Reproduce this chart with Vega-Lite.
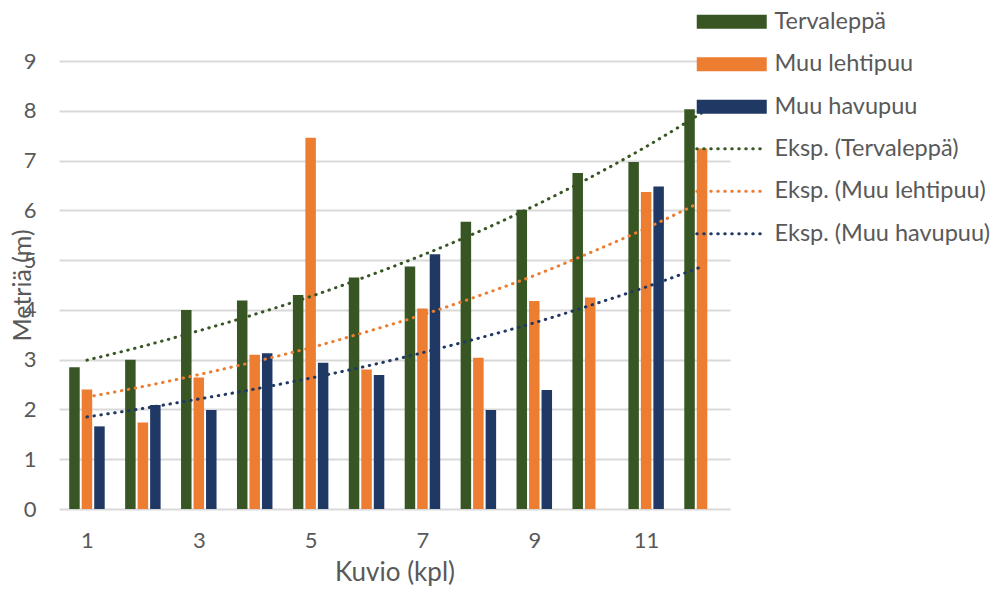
{
  "$schema": "https://vega.github.io/schema/vega-lite/v6.json",
  "width": 671,
  "height": 448,
  "autosize": {"type": "none"},
  "padding": {"left": 59, "top": 61, "right": 267, "bottom": 83},
  "background": "white",
  "config": {"view": {"stroke": null}, "font": "Lato"},
  "datasets": {
    "bars": [
      {"kuvio": 1, "series": "Tervaleppä", "value": 2.85},
      {"kuvio": 2, "series": "Tervaleppä", "value": 3.0},
      {"kuvio": 3, "series": "Tervaleppä", "value": 4.0},
      {"kuvio": 4, "series": "Tervaleppä", "value": 4.19},
      {"kuvio": 5, "series": "Tervaleppä", "value": 4.3},
      {"kuvio": 6, "series": "Tervaleppä", "value": 4.65},
      {"kuvio": 7, "series": "Tervaleppä", "value": 4.87},
      {"kuvio": 8, "series": "Tervaleppä", "value": 5.77},
      {"kuvio": 9, "series": "Tervaleppä", "value": 6.01},
      {"kuvio": 10, "series": "Tervaleppä", "value": 6.75},
      {"kuvio": 11, "series": "Tervaleppä", "value": 6.97},
      {"kuvio": 12, "series": "Tervaleppä", "value": 8.03},
      {"kuvio": 1, "series": "Muu lehtipuu", "value": 2.4},
      {"kuvio": 2, "series": "Muu lehtipuu", "value": 1.74},
      {"kuvio": 3, "series": "Muu lehtipuu", "value": 2.64},
      {"kuvio": 4, "series": "Muu lehtipuu", "value": 3.1},
      {"kuvio": 5, "series": "Muu lehtipuu", "value": 7.46},
      {"kuvio": 6, "series": "Muu lehtipuu", "value": 2.8},
      {"kuvio": 7, "series": "Muu lehtipuu", "value": 4.03},
      {"kuvio": 8, "series": "Muu lehtipuu", "value": 3.04},
      {"kuvio": 9, "series": "Muu lehtipuu", "value": 4.18},
      {"kuvio": 10, "series": "Muu lehtipuu", "value": 4.25},
      {"kuvio": 11, "series": "Muu lehtipuu", "value": 6.37},
      {"kuvio": 12, "series": "Muu lehtipuu", "value": 7.24},
      {"kuvio": 1, "series": "Muu havupuu", "value": 1.66},
      {"kuvio": 2, "series": "Muu havupuu", "value": 2.09},
      {"kuvio": 3, "series": "Muu havupuu", "value": 1.99},
      {"kuvio": 4, "series": "Muu havupuu", "value": 3.13},
      {"kuvio": 5, "series": "Muu havupuu", "value": 2.94},
      {"kuvio": 6, "series": "Muu havupuu", "value": 2.69},
      {"kuvio": 7, "series": "Muu havupuu", "value": 5.12},
      {"kuvio": 8, "series": "Muu havupuu", "value": 1.99},
      {"kuvio": 9, "series": "Muu havupuu", "value": 2.39},
      {"kuvio": 11, "series": "Muu havupuu", "value": 6.48}
    ],
    "trends": [
      {"kuvio": 1, "trend": "Eksp. (Tervaleppä)", "value": 2.99},
      {"kuvio": 2, "trend": "Eksp. (Tervaleppä)", "value": 3.27},
      {"kuvio": 3, "trend": "Eksp. (Tervaleppä)", "value": 3.58},
      {"kuvio": 4, "trend": "Eksp. (Tervaleppä)", "value": 3.91},
      {"kuvio": 5, "trend": "Eksp. (Tervaleppä)", "value": 4.27},
      {"kuvio": 6, "trend": "Eksp. (Tervaleppä)", "value": 4.67},
      {"kuvio": 7, "trend": "Eksp. (Tervaleppä)", "value": 5.10},
      {"kuvio": 8, "trend": "Eksp. (Tervaleppä)", "value": 5.57},
      {"kuvio": 9, "trend": "Eksp. (Tervaleppä)", "value": 6.09},
      {"kuvio": 10, "trend": "Eksp. (Tervaleppä)", "value": 6.66},
      {"kuvio": 11, "trend": "Eksp. (Tervaleppä)", "value": 7.28},
      {"kuvio": 12, "trend": "Eksp. (Tervaleppä)", "value": 7.96},
      {"kuvio": 1, "trend": "Eksp. (Muu lehtipuu)", "value": 2.25},
      {"kuvio": 2, "trend": "Eksp. (Muu lehtipuu)", "value": 2.46},
      {"kuvio": 3, "trend": "Eksp. (Muu lehtipuu)", "value": 2.70},
      {"kuvio": 4, "trend": "Eksp. (Muu lehtipuu)", "value": 2.96},
      {"kuvio": 5, "trend": "Eksp. (Muu lehtipuu)", "value": 3.24},
      {"kuvio": 6, "trend": "Eksp. (Muu lehtipuu)", "value": 3.56},
      {"kuvio": 7, "trend": "Eksp. (Muu lehtipuu)", "value": 3.90},
      {"kuvio": 8, "trend": "Eksp. (Muu lehtipuu)", "value": 4.28},
      {"kuvio": 9, "trend": "Eksp. (Muu lehtipuu)", "value": 4.69},
      {"kuvio": 10, "trend": "Eksp. (Muu lehtipuu)", "value": 5.15},
      {"kuvio": 11, "trend": "Eksp. (Muu lehtipuu)", "value": 5.64},
      {"kuvio": 12, "trend": "Eksp. (Muu lehtipuu)", "value": 6.18},
      {"kuvio": 1, "trend": "Eksp. (Muu havupuu)", "value": 1.85},
      {"kuvio": 2, "trend": "Eksp. (Muu havupuu)", "value": 2.02},
      {"kuvio": 3, "trend": "Eksp. (Muu havupuu)", "value": 2.21},
      {"kuvio": 4, "trend": "Eksp. (Muu havupuu)", "value": 2.41},
      {"kuvio": 5, "trend": "Eksp. (Muu havupuu)", "value": 2.63},
      {"kuvio": 6, "trend": "Eksp. (Muu havupuu)", "value": 2.87},
      {"kuvio": 7, "trend": "Eksp. (Muu havupuu)", "value": 3.14},
      {"kuvio": 8, "trend": "Eksp. (Muu havupuu)", "value": 3.43},
      {"kuvio": 9, "trend": "Eksp. (Muu havupuu)", "value": 3.74},
      {"kuvio": 10, "trend": "Eksp. (Muu havupuu)", "value": 4.09},
      {"kuvio": 11, "trend": "Eksp. (Muu havupuu)", "value": 4.46},
      {"kuvio": 12, "trend": "Eksp. (Muu havupuu)", "value": 4.87}
    ]
  },
  "encoding": {
    "x": {
      "field": "kuvio",
      "type": "quantitative",
      "scale": {"domain": [0.5, 12.5], "nice": false, "zero": false, "padding": 0},
      "axis": {
        "values": [1, 3, 5, 7, 9, 11],
        "format": "d",
        "title": "Kuvio (kpl)",
        "grid": false,
        "domain": false,
        "ticks": false,
        "labelFontSize": 22,
        "labelColor": "#595959",
        "labelPadding": 21,
        "titleFontSize": 26,
        "titleFontWeight": "normal",
        "titleColor": "#595959",
        "titlePadding": 8
      }
    },
    "y": {
      "field": "value",
      "type": "quantitative",
      "scale": {"domain": [0, 9], "nice": false},
      "axis": {
        "values": [0, 1, 2, 3, 4, 5, 6, 7, 8, 9],
        "title": "Metriä (m)",
        "domain": false,
        "ticks": false,
        "gridColor": "#d9d9d9",
        "gridWidth": 2,
        "labelFontSize": 22,
        "labelColor": "#595959",
        "labelPadding": 23,
        "titleFontSize": 25,
        "titleFontWeight": "normal",
        "titleColor": "#595959",
        "titleAngle": -90,
        "titleX": -37,
        "titleY": 224,
        "titleAlign": "center",
        "titleBaseline": "middle"
      }
    }
  },
  "layer": [
    {
      "data": {"name": "bars"},
      "transform": [{"filter": "datum.series === 'Tervaleppä'"}],
      "mark": {"type": "bar", "width": 10.5, "xOffset": -12.5},
      "encoding": {"fill": {"field": "series", "type": "nominal", "scale": {"domain": ["Tervaleppä", "Muu lehtipuu", "Muu havupuu"], "range": ["#375623", "#ED7D31", "#203864"]},
        "legend": {"orient": "none", "legendX": 661, "legendY": -51, "title": null, "symbolType": "M-5,-1H5V1H-5Z", "symbolSize": 196, "symbolStrokeWidth": 0, "labelFontSize": 23.5, "labelColor": "#595959", "labelOffset": 31, "rowPadding": 17.5, "padding": 0, "labelLimit": 400}}}
    },
    {
      "data": {"name": "bars"},
      "transform": [{"filter": "datum.series === 'Muu lehtipuu'"}],
      "mark": {"type": "bar", "width": 10.5, "xOffset": 0},
      "encoding": {"fill": {"field": "series", "type": "nominal"}}
    },
    {
      "data": {"name": "bars"},
      "transform": [{"filter": "datum.series === 'Muu havupuu'"}],
      "mark": {"type": "bar", "width": 10.5, "xOffset": 12.5},
      "encoding": {"fill": {"field": "series", "type": "nominal"}}
    },
    {
      "data": {"name": "trends"},
      "mark": {"type": "line", "strokeDash": [0.5, 6.5], "strokeWidth": 3, "strokeCap": "round", "interpolate": "monotone"},
      "encoding": {"stroke": {"field": "trend", "type": "nominal", "scale": {"domain": ["Eksp. (Tervaleppä)", "Eksp. (Muu lehtipuu)", "Eksp. (Muu havupuu)"], "range": ["#375623", "#ED7D31", "#203864"]},
        "legend": {"orient": "none", "legendX": 661, "legendY": 76, "title": null, "symbolType": "M-5,0H5", "symbolSize": 196, "symbolStrokeWidth": 3, "symbolDash": [0.5, 6.5], "labelFontSize": 23.5, "labelColor": "#595959", "labelOffset": 31, "rowPadding": 17.5, "padding": 0, "labelLimit": 400,
          "encode": {"symbols": {"update": {"strokeCap": {"value": "round"}}}}}}}
    }
  ]
}
